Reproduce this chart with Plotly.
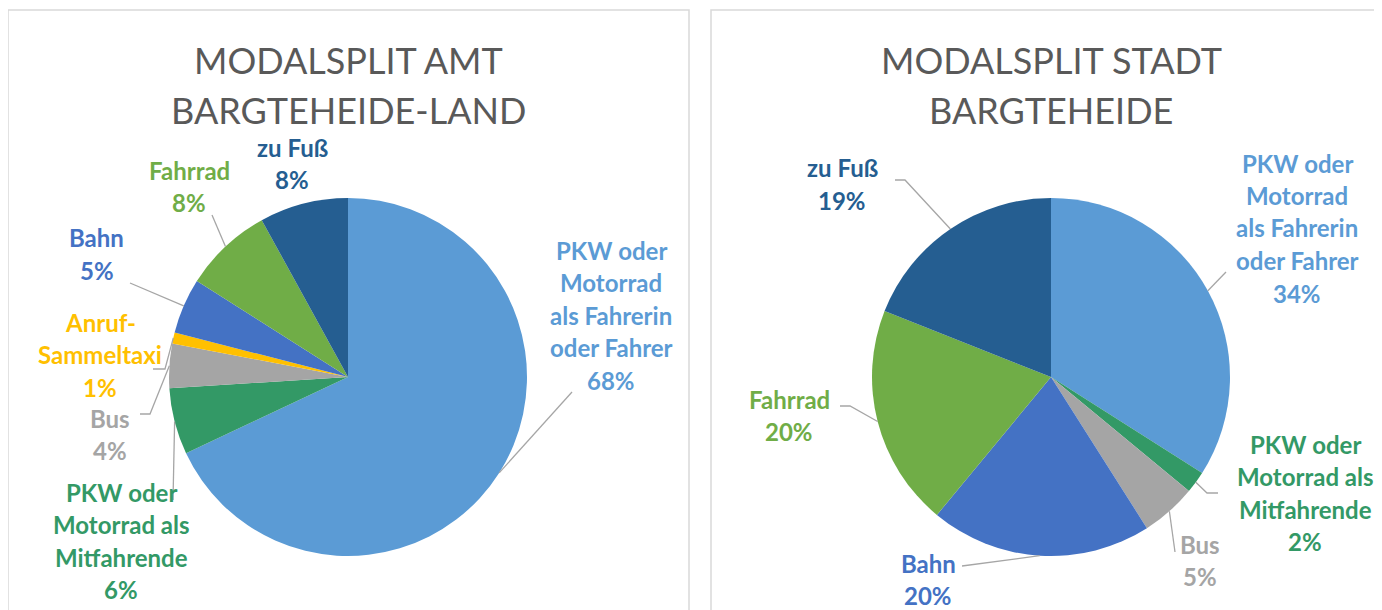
import math
import plotly.graph_objects as go

# ---------------- data ----------------
land_labels = ["PKW oder Motorrad als Fahrerin oder Fahrer", "PKW oder Motorrad als Mitfahrende",
               "Bus", "Anruf-Sammeltaxi", "Bahn", "Fahrrad", "zu Fuß"]
land_values = [68, 6, 4, 1, 5, 8, 8]

stadt_labels = ["PKW oder Motorrad als Fahrerin oder Fahrer", "PKW oder Motorrad als Mitfahrende",
                "Bus", "Bahn", "Fahrrad", "zu Fuß"]
stadt_values = [34, 2, 5, 20, 20, 19]

title_land = ["MODALSPLIT AMT", "BARGTEHEIDE-LAND"]
title_stadt = ["MODALSPLIT STADT", "BARGTEHEIDE"]

# ---------------- styling ----------------
colors = {
    "PKW oder Motorrad als Fahrerin oder Fahrer": "#5B9BD5",
    "PKW oder Motorrad als Mitfahrende": "#339966",
    "Bus": "#A5A5A5",
    "Anruf-Sammeltaxi": "#FFC000",
    "Bahn": "#4472C4",
    "Fahrrad": "#70AD47",
    "zu Fuß": "#255E91",
}

OFF = 8                      # page body margin
W, H = 1382 - OFF, 610 - OFF
R = 179
FONT = "Lato"

# label text lines, centre x, first-line y and leader-line waypoints (pixel layout, page coords)
land_layout = {
    "PKW oder Motorrad als Fahrerin oder Fahrer": (["PKW oder", "Motorrad", "als Fahrerin", "oder Fahrer"], 611, 250, [(572, 392)]),
    "PKW oder Motorrad als Mitfahrende": (["PKW oder", "Motorrad als", "Mitfahrende"], 121, 492, [(173, 500)]),
    "Bus": (["Bus"], 110, 418, [(150, 414), (140, 414)]),
    "Anruf-Sammeltaxi": (["Anruf-", "Sammeltaxi"], 100, 322, [(165, 369), (153, 369)]),
    "Bahn": (["Bahn"], 97, 238, [(130, 283)]),
    "Fahrrad": (["Fahrrad"], 189, 170, [(212, 215)]),
    "zu Fuß": (["zu Fuß"], 292, 147, []),
}
stadt_layout = {
    "PKW oder Motorrad als Fahrerin oder Fahrer": (["PKW oder", "Motorrad", "als Fahrerin", "oder Fahrer"], 1297, 163, [(1226, 272)]),
    "PKW oder Motorrad als Mitfahrende": (["PKW oder", "Motorrad als", "Mitfahrende"], 1305, 444, [(1207, 493), (1218, 493)]),
    "Bus": (["Bus"], 1200, 544, [(1175, 552)]),
    "Bahn": (["Bahn"], 928, 563, [(962, 566)]),
    "Fahrrad": (["Fahrrad"], 789, 399, [(850, 406), (840, 406)]),
    "zu Fuß": (["zu Fuß"], 842, 168, [(905, 180), (895, 180)]),
}

LINE_H = 32.5


def px(x):
    return (x - OFF) / W


def py(y):
    return 1 - (y - OFF) / H


fig = go.Figure()
annotations = []
shapes = []


def add_panel(labels, values, center, titles, layout, panel_box):
    cx, cy = center
    fig.add_trace(go.Pie(
        labels=labels, values=values, sort=False, direction="clockwise", rotation=0,
        marker=dict(colors=[colors[l] for l in labels], line=dict(width=0)),
        textinfo="none", hoverinfo="label+percent", showlegend=False,
        domain=dict(x=[px(cx - R), px(cx + R)], y=[py(cy + R), py(cy - R)]),
    ))
    # panel border
    x0, y0, x1, y1 = panel_box
    shapes.append(dict(type="rect", xref="paper", yref="paper", x0=px(x0), x1=px(x1), y0=py(y1), y1=py(y0),
                       line=dict(color="#D9D9D9", width=1.5), fillcolor="rgba(0,0,0,0)", layer="below"))
    # titles
    for i, t in enumerate(titles):
        annotations.append(dict(text=t, x=px(cx), y=py(60 + 50 * i), xref="paper", yref="paper",
                                showarrow=False, xanchor="center", yanchor="middle",
                                font=dict(family=FONT, size=36, color="#595959")))
    total = sum(values)
    cum = 0
    for lab, v in zip(labels, values):
        mid = (cum + v / 2) / total * 2 * math.pi
        cum += v
        lines, lx, ly, pts = layout[lab]
        pct = f"{round(v / total * 100)}%"
        all_lines = lines + [pct]
        for j, ln in enumerate(all_lines):
            annotations.append(dict(text=f"<b>{ln}</b>", x=px(lx), y=py(ly + j * LINE_H), xref="paper", yref="paper",
                                    showarrow=False, xanchor="center", yanchor="middle",
                                    font=dict(family=FONT, size=24, color=colors[lab])))
        if pts:
            sx = cx + R * math.sin(mid)
            sy = cy - R * math.cos(mid)
            path = f"M {px(sx)},{py(sy)}" + "".join(f" L {px(a)},{py(b)}" for a, b in pts)
            shapes.append(dict(type="path", xref="paper", yref="paper", path=path,
                               line=dict(color="#A6A6A6", width=1.3)))


add_panel(land_labels, land_values, (348, 377), title_land, land_layout, (8, 10, 689, 640))
add_panel(stadt_labels, stadt_values, (1051, 377), title_stadt, stadt_layout, (711, 10, 1400, 640))

fig.update_layout(
    width=W, height=H, margin=dict(l=0, r=0, t=0, b=0),
    paper_bgcolor="white", plot_bgcolor="white",
    annotations=annotations, shapes=shapes,
)

fig.write_html("out.html")
